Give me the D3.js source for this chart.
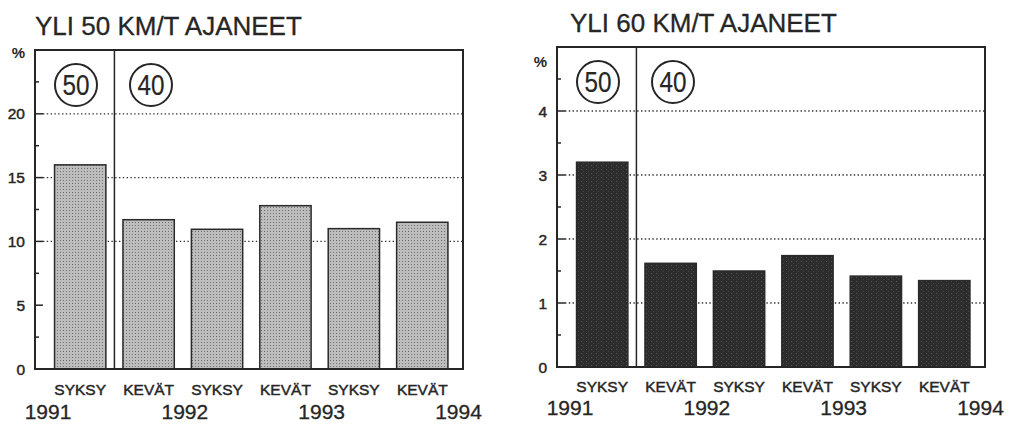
<!DOCTYPE html>
<html>
<head>
<meta charset="utf-8">
<script src="https://cdn.jsdelivr.net/npm/d3@7"></script>
<style>
  body { margin: 0; background: #fff; }
  svg { display: block; font-family: "Liberation Sans", Arial, sans-serif; }
  text { stroke: #262626; stroke-width: 0.45px; }
</style>
</head>
<body>
<svg id="chart" width="1023" height="431"></svg>
<script>
// data
const seasons = ["SYKSY", "KEVÄT", "SYKSY", "KEVÄT", "SYKSY", "KEVÄT"];
const years = ["1991", "1992", "1993", "1994"];
const over50 = [16.0, 11.7, 10.95, 12.8, 11.0, 11.5];
const over60 = [3.2, 1.62, 1.5, 1.74, 1.42, 1.35];
const limits = ["50", "40"];
const ticks50 = [0, 5, 10, 15, 20];
const grid50 = [10, 15, 20];
const ticks60 = [0, 1, 2, 3, 4];
const grid60 = [1, 2, 3, 4];

const svg = d3.select("#chart");
const ink = "#262626";

// bar textures
const defs = svg.append("defs");
const light = defs.append("pattern")
    .attr("id", "light").attr("width", 3).attr("height", 3)
    .attr("patternUnits", "userSpaceOnUse");
light.append("rect").attr("width", 3).attr("height", 3).attr("fill", "#bdbdbd");
light.append("rect").attr("width", 1).attr("height", 1).attr("fill", "#707070");

const dark = defs.append("pattern")
    .attr("id", "dark").attr("width", 5).attr("height", 4)
    .attr("patternUnits", "userSpaceOnUse");
dark.append("rect").attr("width", 5).attr("height", 4).attr("fill", "#2c2c2c");
dark.append("rect").attr("x", 1).attr("y", 1).attr("width", 1).attr("height", 1).attr("fill", "#555");
dark.append("rect").attr("x", 3).attr("y", 3).attr("width", 1).attr("height", 1).attr("fill", "#444");

const drawPanel = (p) => {
  const x0 = p.left, x1 = p.left + 428, y0 = p.top, y1 = p.bottom;
  const g = svg.append("g");

  const y = d3.scaleLinear().domain(p.domain).range([y1, y0]);
  const x = d3.scaleBand()
      .domain(d3.range(seasons.length))
      .range([x0 + 11, x1 - 6.5])
      .paddingInner(0.25)
      .paddingOuter(0.125);
  const step = x.step();
  const r0 = x0 + 11;

  // title
  g.append("text")
      .attr("x", p.titleX).attr("y", p.titleY)
      .attr("font-size", 26).attr("fill", ink)
      .style("stroke-width", "0.3px")
      .text(p.title);

  // dotted gridlines
  g.selectAll(".grid")
    .data(p.grid)
    .join("line")
      .attr("x1", x0 + 8).attr("x2", x1)
      .attr("y1", d => y(d)).attr("y2", d => y(d))
      .attr("stroke", "#333")
      .attr("stroke-width", 1.3)
      .attr("stroke-dasharray", "1.4,2.4");

  // bars
  g.selectAll(".bar")
    .data(p.values)
    .join("rect")
      .attr("x", (d, i) => x(i))
      .attr("width", x.bandwidth())
      .attr("y", d => y(d))
      .attr("height", d => y(0) - y(d))
      .attr("fill", p.fill)
      .attr("stroke", "#2a2a2a")
      .attr("stroke-width", 1.5);

  // frame
  g.append("rect")
      .attr("x", x0).attr("y", y0)
      .attr("width", x1 - x0).attr("height", y1 - y0)
      .attr("fill", "none").attr("stroke", ink).attr("stroke-width", 2);

  // limit change divider
  const xd = x(1) - step * x.paddingInner() / 2;
  g.append("line")
      .attr("x1", xd).attr("x2", xd)
      .attr("y1", y0).attr("y2", y1)
      .attr("stroke", ink).attr("stroke-width", 1.5);

  // speed limit signs
  const signX = [x0 + 41, x0 + 116];
  const sign = g.selectAll(".sign")
    .data(limits)
    .join("g")
      .attr("transform", (d, i) => `translate(${signX[i]},${y0 + 35})`);
  sign.append("circle").attr("r", 21)
      .attr("fill", "none").attr("stroke", ink).attr("stroke-width", 2);
  sign.append("text")
      .attr("text-anchor", "middle").attr("dy", "0.36em")
      .attr("font-size", 29).attr("fill", ink)
      .style("stroke-width", "0.2px")
      .attr("textLength", 27).attr("lengthAdjust", "spacingAndGlyphs")
      .text(d => d);

  // y axis: major and minor ticks inside the frame
  const minor = d3.range(p.domain[0] + p.minorStep / 2, p.domain[1], p.minorStep);
  g.selectAll(".minor")
    .data(minor)
    .join("line")
      .attr("x1", x0).attr("x2", x0 + 4)
      .attr("y1", d => y(d)).attr("y2", d => y(d))
      .attr("stroke", ink).attr("stroke-width", 1.5);
  g.selectAll(".major")
    .data(p.ticks.filter(d => d > 0))
    .join("line")
      .attr("x1", x0).attr("x2", x0 + 8)
      .attr("y1", d => y(d)).attr("y2", d => y(d))
      .attr("stroke", ink).attr("stroke-width", 1.5);
  g.selectAll(".tl")
    .data(p.ticks)
    .join("text")
      .attr("x", x0 - 10).attr("y", d => y(d))
      .attr("dy", "0.36em")
      .attr("text-anchor", "end")
      .attr("font-size", 15.5).attr("fill", ink)
      .text(d => d);
  g.append("text")
      .attr("x", x0 - 10).attr("y", p.pctY)
      .attr("text-anchor", "end")
      .attr("font-size", 15).attr("font-weight", "bold").attr("fill", ink)
      .style("stroke-width", "0px")
      .text("%");

  // x labels
  g.selectAll(".season")
    .data(seasons)
    .join("text")
      .attr("x", (d, i) => x(i) + x.bandwidth() / 2)
      .attr("y", p.seasonY)
      .attr("text-anchor", "middle")
      .attr("font-size", 15.5).attr("fill", ink)
      .text(d => d);
  g.selectAll(".year")
    .data(years)
    .join("text")
      .attr("x", (d, i) => r0 + step * i * 2 + 2)
      .attr("y", p.yearY)
      .attr("text-anchor", "middle")
      .attr("font-size", 21).attr("fill", ink)
      .style("stroke-width", "0.3px")
      .text(d => d);
};

drawPanel({
  title: "YLI 50 KM/T AJANEET", titleX: 35, titleY: 35,
  left: 35, top: 50, bottom: 369,
  domain: [0, 25], minorStep: 5, ticks: ticks50, grid: grid50,
  values: over50, fill: "url(#light)",
  pctY: 58, seasonY: 395, yearY: 419
});

drawPanel({
  title: "YLI 60 KM/T AJANEET", titleX: 570, titleY: 32,
  left: 557, top: 47, bottom: 367,
  domain: [0, 5], minorStep: 1, ticks: ticks60, grid: grid60,
  values: over60, fill: "url(#dark)",
  pctY: 67, seasonY: 392, yearY: 415
});
</script>
</body>
</html>
